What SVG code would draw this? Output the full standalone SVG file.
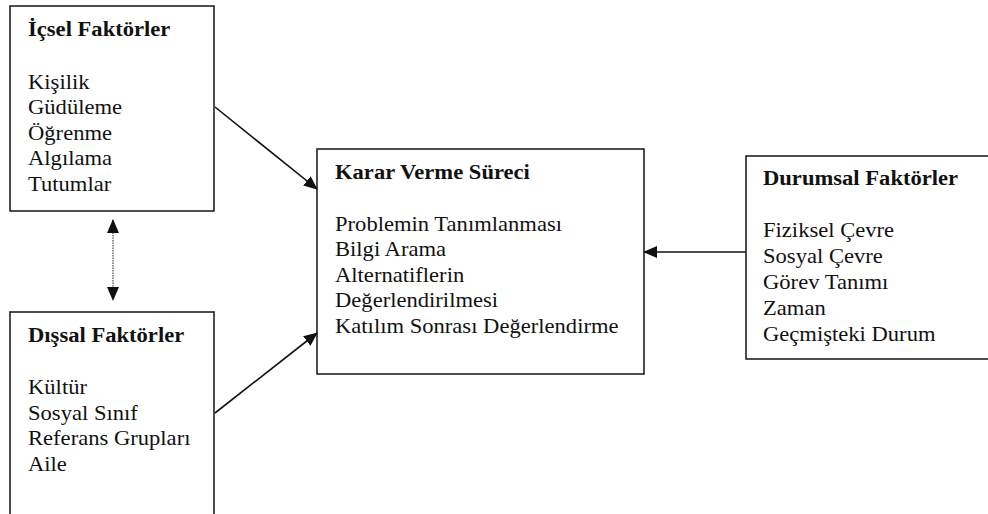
<svg xmlns="http://www.w3.org/2000/svg" width="988" height="514" viewBox="0 0 988 514">
<defs>
<style>
.box{fill:#fff;stroke:#222;stroke-width:1.6}
.t{font-family:"Times New Roman","Liberation Serif","DejaVu Serif",serif;font-size:20px;fill:#111}
.b{font-weight:bold}
.con{stroke:#111;stroke-width:1.6;fill:none}
.dot{stroke:#777;stroke-width:1.6;stroke-dasharray:1.5 1;fill:none}
</style>
<marker id="ah" markerUnits="userSpaceOnUse" markerWidth="14" markerHeight="12" refX="13" refY="6" orient="auto-start-reverse" viewBox="0 0 14 12">
<path d="M0,0 L14,6 L0,12 z" fill="#111"/>
</marker>
</defs>
<rect width="988" height="514" fill="#fff"/>
<g id="icsel">
<rect class="box" x="10" y="6" width="204" height="205"/>
<g transform="translate(28,0) scale(1.13,1)">
<text class="t b" x="0" y="36">İçsel Faktörler</text>
<text class="t" x="0" y="89">Kişilik</text>
<text class="t" x="0" y="114.5">Güdüleme</text>
<text class="t" x="0" y="140">Öğrenme</text>
<text class="t" x="0" y="165.5">Algılama</text>
<text class="t" x="0" y="191">Tutumlar</text>
</g>
</g>
<g id="dissal">
<rect class="box" x="10" y="312" width="204" height="220"/>
<g transform="translate(28,0) scale(1.13,1)">
<text class="t b" x="0" y="342">Dışsal Faktörler</text>
<text class="t" x="0" y="394">Kültür</text>
<text class="t" x="0" y="420">Sosyal Sınıf</text>
<text class="t" x="0" y="445.5">Referans Grupları</text>
<text class="t" x="0" y="471">Aile</text>
</g>
</g>
<g id="karar">
<rect class="box" x="317" y="149" width="327" height="225"/>
<g transform="translate(335,0) scale(1.13,1)">
<text class="t b" x="0" y="179">Karar Verme Süreci</text>
<text class="t" x="0" y="231">Problemin Tanımlanması</text>
<text class="t" x="0" y="256.5">Bilgi Arama</text>
<text class="t" x="0" y="282">Alternatiflerin</text>
<text class="t" x="0" y="307.5">Değerlendirilmesi</text>
<text class="t" x="0" y="333">Katılım Sonrası Değerlendirme</text>
</g>
</g>
<g id="durumsal">
<rect class="box" x="746" y="156" width="260" height="203"/>
<g transform="translate(763,0) scale(1.13,1)">
<text class="t b" x="0" y="185">Durumsal Faktörler</text>
<text class="t" x="0" y="237">Fiziksel Çevre</text>
<text class="t" x="0" y="263">Sosyal Çevre</text>
<text class="t" x="0" y="289">Görev Tanımı</text>
<text class="t" x="0" y="315">Zaman</text>
<text class="t" x="0" y="341">Geçmişteki Durum</text>
</g>
</g>
<g id="connectors">
<line class="con" x1="215" y1="107" x2="317" y2="189" marker-end="url(#ah)"/>
<line class="con" x1="215" y1="413" x2="317" y2="333" marker-end="url(#ah)"/>
<line class="con" x1="746" y1="252" x2="644" y2="252" marker-end="url(#ah)"/>
<line class="dot" x1="113" y1="220" x2="113" y2="300" marker-start="url(#ah)" marker-end="url(#ah)"/>
</g>
</svg>
